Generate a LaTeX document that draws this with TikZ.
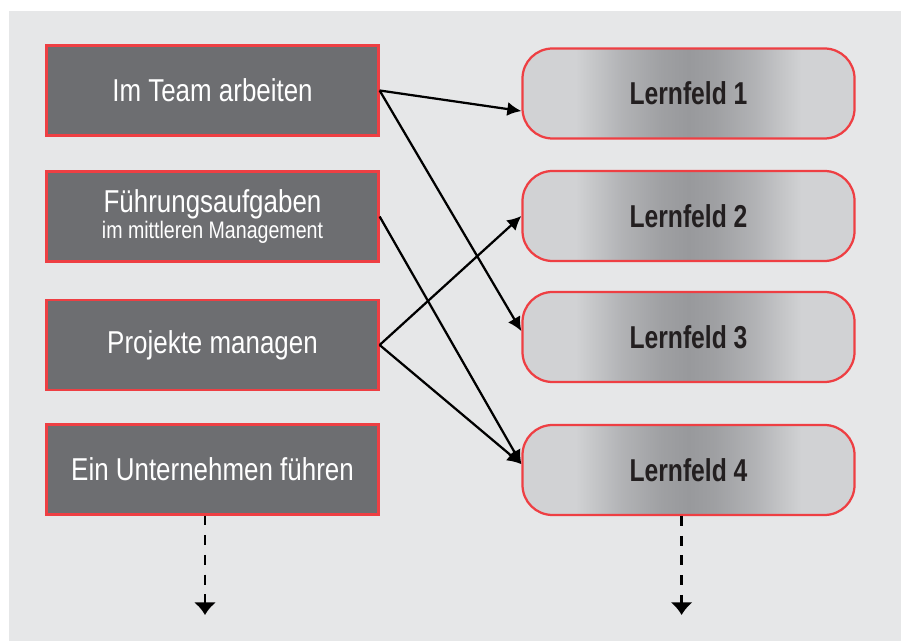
\documentclass[tikz,border=0pt]{standalone}
\usepackage{fontspec}
\setmainfont{Liberation Sans}[FakeStretch=0.82]
\newfontfamily\lernfont{Liberation Sans}[FakeStretch=0.78]
\usepackage{tikz}
\usetikzlibrary{arrows.meta}

\definecolor{bggrey}{HTML}{E6E7E8}
\definecolor{boxgrey}{HTML}{6D6E71}
\definecolor{boxred}{HTML}{EE3F43}
\definecolor{lfedge}{HTML}{D1D2D4}
\definecolor{lfmid}{HTML}{98999C}
\definecolor{lftext}{HTML}{231F20}
\colorlet{lfa}{lfmid!55!lfedge}
\colorlet{lfb}{lfmid!88!lfedge}
\pgfdeclarehorizontalshading{lernshade}{100bp}{color(0bp)=(lfedge); color(33bp)=(lfedge); color(40bp)=(lfa); color(46bp)=(lfb); color(50bp)=(lfmid); color(54bp)=(lfb); color(60bp)=(lfa); color(67bp)=(lfedge); color(100bp)=(lfedge)}

\begin{document}
\begin{tikzpicture}[
	aufgabe/.style={draw=boxred, line width=1.6pt, fill=boxgrey, text=white,
		minimum width=8.3cm, minimum height=2.25cm, align=center,
		font=\fontsize{22.5}{18.5}\selectfont},
	lernfeld/.style={draw=boxred, line width=1.6pt, shade, shading=lernshade,
		rounded corners=0.75cm, text=lftext,
		minimum width=8.3cm, minimum height=2.25cm,
		font=\lernfont\bfseries\fontsize{22.5}{24}\selectfont},
	pfeil/.style={line width=1.6pt, -{Latex[length=10pt,width=10pt]}},
	weiter/.style={line width=1.7pt, dash pattern=on 7pt off 7pt, -{Latex[length=9pt,width=16pt]}}
	]
	\useasboundingbox (0,0) rectangle (22.525,16.025);
	% Background
	\fill[bggrey] (0.225,0) rectangle (22.525,15.75);

	% Aufgaben (left)
	\node[aufgabe] (team) at (5.3125,13.7625) {Im Team arbeiten};
	\node[aufgabe] (fuehrung) at (5.3125,10.6125) {Führungsaufgaben\\{\fontsize{17}{18.5}\selectfont im mittleren Management}};
	\node[aufgabe] (projekt) at (5.3125,7.4) {Projekte managen};
	\node[aufgabe] (unternehmen) at (5.3125,4.2875) {Ein Unternehmen führen};

	% Lernfelder (right)
	\node[lernfeld] (lf1) at (17.2125,13.6875) {Lernfeld 1};
	\node[lernfeld] (lf2) at (17.2125,10.625) {Lernfeld 2};
	\node[lernfeld] (lf3) at (17.2125,7.6) {Lernfeld 3};
	\node[lernfeld] (lf4) at (17.2125,4.275) {Lernfeld 4};

	% Zuordnung
	\draw[pfeil] (team.east) -- (lf1.186);
	\draw[pfeil] (team.east) -- (lf3.178);
	\draw[pfeil] (fuehrung.east) -- (lf4.178);
	\draw[pfeil] (projekt.east) -- (lf2.west);
	\draw[pfeil] (projekt.east) -- (lf4.178);

	% Fortsetzung
	\coordinate (weiterL) at (5.125,0.65);
	\coordinate (weiterR) at (17.04,0.65);
	\draw[weiter] (weiterL |- unternehmen.south) -- (weiterL);
	\draw[weiter] (weiterR |- lf4.south) -- (weiterR);

\end{tikzpicture}
\end{document}
